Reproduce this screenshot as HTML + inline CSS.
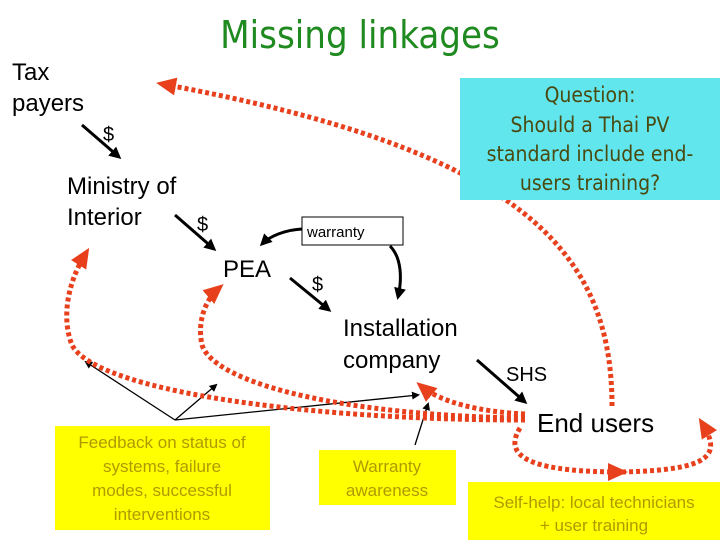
<!DOCTYPE html>
<html><head><meta charset="utf-8"><style>
body{margin:0;background:#fff}
svg{display:block;font-family:"Liberation Sans",sans-serif}
.c{font-family:"DejaVu Sans Condensed","DejaVu Sans",sans-serif}
</style></head><body>
<svg width="720" height="540" viewBox="0 0 720 540" xmlns="http://www.w3.org/2000/svg">
<defs>
<marker id="ab" markerWidth="8" markerHeight="8" refX="6" refY="4" orient="auto" markerUnits="userSpaceOnUse"><path d="M0,0 L8,4 L0,8z" fill="#000"/></marker>
<marker id="ab2" markerWidth="12" markerHeight="12" refX="9" refY="6" orient="auto" markerUnits="userSpaceOnUse"><path d="M0,0 L12,6 L0,12z" fill="#000"/></marker>
<marker id="ar" markerWidth="20" markerHeight="18" refX="14" refY="9" orient="auto" markerUnits="userSpaceOnUse"><path d="M0,0 L20,9 L0,18z" fill="#e8401c"/></marker>
</defs>
<rect x="55" y="426" width="215" height="104" fill="#ffff00"/>
<rect x="319" y="450" width="137" height="55" fill="#ffff00"/>
<rect x="468" y="482" width="252" height="58" fill="#ffff00"/>
<text x="360" y="48" text-anchor="middle" class="c" font-size="38" fill="#1f8a1f">Missing linkages</text>
<g font-size="24" fill="#000">
<text x="12" y="80">Tax</text><text x="12" y="111">payers</text>
<text x="67" y="194">Ministry of</text><text x="67" y="225">Interior</text>
<text x="223" y="277">PEA</text>
<text x="343" y="336">Installation</text><text x="343" y="368">company</text>
<text x="537" y="432" font-size="26">End users</text>
<text x="506" y="381" font-size="20">SHS</text>
<text x="103" y="141" font-size="20">$</text>
<text x="197" y="231" font-size="20">$</text>
<text x="312" y="291" font-size="20">$</text>
</g>
<rect x="302" y="217" width="101" height="28" fill="#fff" stroke="#000"/>
<text x="307" y="237" font-size="15">warranty</text>
<g font-size="17" fill="#b09a00" text-anchor="middle">
<text x="162" y="448">Feedback on status of</text>
<text x="162" y="472">systems, failure</text>
<text x="162" y="496">modes, successful</text>
<text x="162" y="520">interventions</text>
<text x="387" y="472">Warranty</text>
<text x="387" y="496">awareness</text>
<text x="594" y="508">Self-help: local technicians</text>
<text x="594" y="531">+ user training</text>
</g>
<g stroke="#000" stroke-width="3" fill="none">
<line x1="82" y1="125" x2="119" y2="157" marker-end="url(#ab2)"/>
<line x1="175" y1="215" x2="214" y2="249" marker-end="url(#ab2)"/>
<line x1="290" y1="278" x2="329" y2="310" marker-end="url(#ab2)"/>
<line x1="477" y1="360" x2="525" y2="402" marker-end="url(#ab2)"/>
<path d="M302,229 C285,230 270,236 262,244" marker-end="url(#ab2)"/>
<path d="M390,246 C402,258 402,280 398,297" marker-end="url(#ab2)"/>
</g>
<g stroke="#000" stroke-width="1.3" fill="none">
<line x1="175" y1="420" x2="86" y2="362" marker-end="url(#ab)"/>
<line x1="175" y1="420" x2="216" y2="385" marker-end="url(#ab)"/>
<line x1="175" y1="420" x2="418" y2="395" marker-end="url(#ab)"/>
<line x1="415" y1="445" x2="428" y2="404" marker-end="url(#ab)"/>
</g>
<g stroke="#e8401c" stroke-width="5" fill="none" stroke-dasharray="4 3">
<path d="M612,406 C612,250 520,150 162,84" marker-end="url(#ar)"/>
<path d="M525,420 C300,420 95,390 72,345 C62,320 66,285 86,253" marker-end="url(#ar)"/>
<path d="M525,418 C350,416 215,385 202,345 C197,322 205,300 219,288" marker-end="url(#ar)"/>
<path d="M525,414 C480,412 440,402 421,386" marker-end="url(#ar)"/>
<path d="M520,428 C500,460 540,472 622,472" marker-end="url(#ar)"/>
<path d="M622,472 C712,470 722,455 702,423" marker-end="url(#ar)"/>
</g>
<rect x="460" y="78" width="260" height="122" fill="#62e6ee"/>
<g class="c" font-size="21" fill="#4a4a10" text-anchor="middle">
<text x="590" y="102">Question:</text>
<text x="590" y="132">Should a Thai PV</text>
<text x="590" y="161">standard include end-</text>
<text x="590" y="190">users training?</text>
</g>
</svg>
</body></html>
